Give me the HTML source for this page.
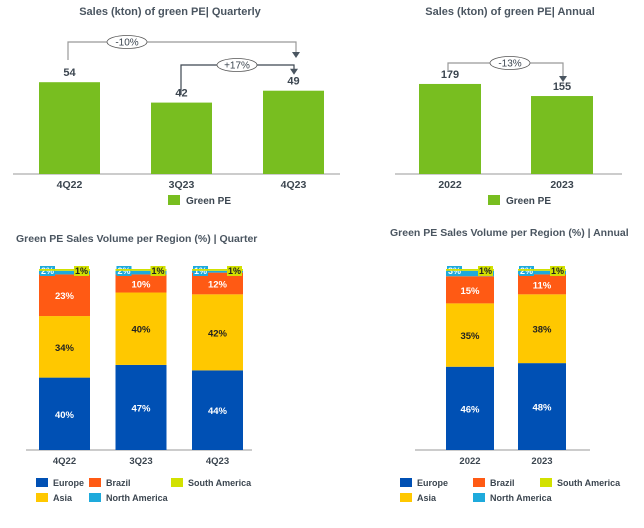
<!DOCTYPE html>
<html><head><meta charset="utf-8"><style>
body{margin:0;background:#fff;width:644px;height:523px;overflow:hidden}
svg{font-family:"Liberation Sans",sans-serif}
</style></head><body>
<svg id="s" width="644" height="523" xmlns="http://www.w3.org/2000/svg">
<text x="170" y="15" text-anchor="middle" font-size="11" font-weight="bold" fill="#4a5560">Sales (kton) of green PE| Quarterly</text>
<text x="510" y="15" text-anchor="middle" font-size="11" font-weight="bold" fill="#4a5560">Sales (kton) of green PE| Annual</text>
<text x="16" y="242" font-size="10.5" font-weight="bold" fill="#4a5560">Green PE Sales Volume per Region (%) | Quarter</text>
<text x="390" y="236" font-size="10.5" font-weight="bold" fill="#4a5560">Green PE Sales Volume per Region (%) | Annual</text>
<g id="g"></g>
</svg>
<script>
const qCats=["4Q22","3Q23","4Q23"];
const qSales=[54,42,49];
const aCats=["2022","2023"];
const aSales=[179,155];
const regions=["Europe","Asia","Brazil","North America","South America"];
const qEurope=[40,47,44],qAsia=[34,40,42],qBrazil=[23,10,12],qNA=[2,2,1],qSA=[1,1,1];
const aEurope=[46,48],aAsia=[35,38],aBrazil=[15,11],aNA=[3,2],aSA=[1,1];
const colors={"Europe":"#0050b4","Asia":"#ffc800","Brazil":"#ff5a14","North America":"#1eaadc","South America":"#d2e100"};
const NS="http://www.w3.org/2000/svg",G=document.getElementById('g');
function el(t,a,txt){const e=document.createElementNS(NS,t);for(const k in a)e.setAttribute(k,a[k]);if(txt!=null)e.textContent=txt;G.appendChild(e);return e;}
const green="#78be20",txtc="#3c4650";
function barChart(cats,vals,x0,step,w,base,scale,ax1,ax2,legX,name){
  let l=el('line',{x1:ax1,x2:ax2,y1:base,y2:base,stroke:'#bbb','stroke-width':1.5});
  
  const tops=[];
  cats.forEach((c,i)=>{const x=x0+i*step,h=vals[i]*scale;tops.push(base-h);
    let r=el('rect',{x:x,y:base-h,width:w,height:h,fill:green});
    
    let t=el('text',{x:x+w/2,y:base-h-6,'text-anchor':'middle','font-size':11,'font-weight':'bold',fill:txtc},vals[i]);
    
    let c2=el('text',{x:x+w/2,y:base+14,'text-anchor':'middle','font-size':10.5,'font-weight':'bold',fill:txtc},c);
    
  });
  let q=el('rect',{x:legX,y:195,width:12,height:10,fill:green});
  
  let lt=el('text',{x:legX+18,y:204,'font-size':10,'font-weight':'bold',fill:txtc},'Green PE');
  
  return tops;
}
function arrow(xa,ya,yTop,xb,yb,label,cx,name,col){
  let p=el('path',{d:`M${xa},${ya} V${yTop} H${xb} V${yb-5}`,fill:'none',stroke:col,'stroke-width':1.2});
  
  let a=el('path',{d:`M${xb-4},${yb-6} L${xb+4},${yb-6} L${xb},${yb} Z`,fill:'#4a5560'});
  
  let e=el('ellipse',{cx:cx,cy:yTop,rx:20,ry:6.5,fill:'#fff',stroke:'#555','stroke-width':0.8});
  
  let t=el('text',{x:cx,y:yTop+3.5,'text-anchor':'middle','font-size':10,fill:txtc},label);
  
}
const qt=barChart(qCats,qSales,39,112,61,174,1.7,13,340,168,'quarterly');
arrow(68,60,42,296,58,'-10%',127,'yoy-change','#999');
arrow(181,95,65,294,qt[2]-16,'+17%',237,'qoq-change','#3c4650');
const at=barChart(aCats,aSales,419,112,62,174,0.503,395,622,488,'annual');
arrow(448,70,63,563,at[1]-14,'-13%',510,'annual-change','#999');

function stacked(cats,series,x0,step,w,base,scale,ax1,ax2,name){
  let l=el('line',{x1:ax1,x2:ax2,y1:base,y2:base,stroke:'#bbb','stroke-width':1.5});
  
  cats.forEach((c,i)=>{const x=x0+i*step;let y=base;
    series.forEach((s,k)=>{const v=s[i],h=v*scale;y-=h;const reg=regions[k];
      let r=el('rect',{x:x,y:y,width:w,height:h,fill:colors[reg]});
      
      let t;
      if(v>=5){t=el('text',{x:x+w/2,y:y+h/2+4,'text-anchor':'middle','font-size':9.5,'font-weight':'bold',fill:reg=="Asia"?'#222':'#fff'},v+'%');}
      else{const bx=k==3?x+1:x+w-16;
        let b=el('rect',{x:bx,y:base-100*scale-3,width:15,height:10,fill:colors[reg]});
        
        t=el('text',{x:bx+7.5,y:base-100*scale+5,'text-anchor':'middle','font-size':9,'font-weight':'bold',fill:k==3?'#fff':'#222'},v+'%');}
      
    });
    let ct=el('text',{x:x+w/2,y:base+14,'text-anchor':'middle','font-size':9.5,'font-weight':'bold',fill:txtc},c);
    
  });
}
stacked(qCats,[qEurope,qAsia,qBrazil,qNA,qSA],39,76.5,51,450,1.81,26,252,'quarter-region');
stacked(aCats,[aEurope,aAsia,aBrazil,aNA,aSA],446,72,48,450,1.81,415,590,'annual-region');

function legend(x1,x2,x3,name){
  const pos=[[x1,482,"Europe"],[x2,482,"Brazil"],[x3,482,"South America"],[x1,497,"Asia"],[x2,497,"North America"]];
  pos.forEach(p=>{
    let r=el('rect',{x:p[0],y:p[1]-4,width:12,height:9,fill:colors[p[2]]});
    
    let t=el('text',{x:p[0]+17,y:p[1]+4,'font-size':9,'font-weight':'bold',fill:txtc},p[2]);
    
  });
}
legend(36,89,171,'quarter-region');
legend(400,473,540,'annual-region');
</script>
</body></html>
